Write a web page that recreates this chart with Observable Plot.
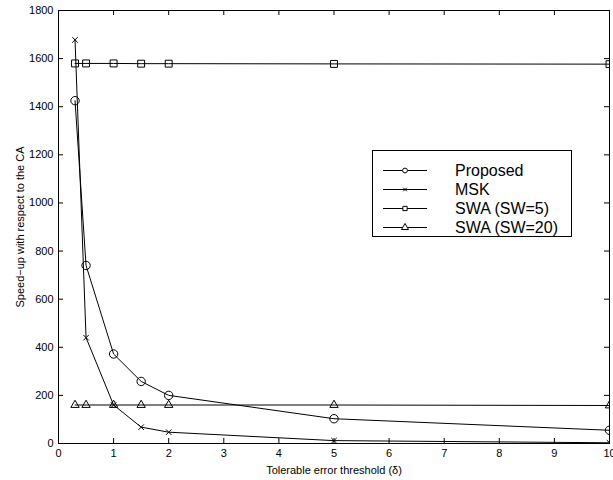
<!DOCTYPE html>
<html>
<head>
<meta charset="utf-8">
<script src="https://cdn.jsdelivr.net/npm/d3@7"></script>
<script src="https://cdn.jsdelivr.net/npm/@observablehq/plot@0.6"></script>
<style>
  html, body { margin: 0; padding: 0; background: #fff; }
  #wrap { position: relative; width: 613px; height: 480px; }
  #legend { position: absolute; left: 372px; top: 150px; width: 200px; height: 87px;
    border: 1px solid #000; background: #fff; box-sizing: border-box;
    font-family: "Liberation Sans", Arial, sans-serif; font-size: 16px; }
  .row { position: absolute; left: 0; height: 19px; display: flex; align-items: center; }
  .row svg { margin-left: 10px; }
  .row span { position: absolute; left: 82px; white-space: nowrap; line-height: 19px; }
</style>
</head>
<body>
<div id="wrap"></div>
<script>
const xs = [0.3, 0.5, 1, 1.5, 2, 5, 10];
const seriesNames = ["Proposed", "MSK", "SWA (SW=5)", "SWA (SW=20)"];
const proposed = [1425, 740, 372, 258, 200, 103, 55];
const msk = [1678, 440, 160, 68, 47, 12, 3];
const swa5 = [1580, 1580, 1580, 1579, 1579, 1578, 1577];
const swa20 = [160, 160, 160, 160, 160, 160, 158];
const xTicks = [0, 1, 2, 3, 4, 5, 6, 7, 8, 9, 10];
const yTicks = [0, 200, 400, 600, 800, 1000, 1200, 1400, 1600, 1800];

const symbols = ["circle", "times", "square", "triangle"];
const symR = [4.2, 2.6, 3.9, 3.1];
const legR = [2.4, 1.8, 2.4, 2.6];
const allSeries = [proposed, msk, swa5, swa20];
const data = [];
allSeries.forEach((vals, si) => vals.forEach((v, i) => data.push({x: xs[i], y: v, s: seriesNames[si], si})));

const W = 613, H = 480, mL = 58, mR = 4, mT = 10, mB = 37;
const fw = W - mL - mR, fh = H - mT - mB;
const tick = 5;

const marks = [
  Plot.frame({stroke: "#000", strokeWidth: 1}),
  Plot.tickX(xTicks, {x: d => d, insetTop: fh - tick, stroke: "#000"}),
  Plot.tickX(xTicks, {x: d => d, insetBottom: fh - tick, stroke: "#000"}),
  Plot.tickY(yTicks, {y: d => d, insetRight: fw - tick, stroke: "#000"}),
  Plot.tickY(yTicks, {y: d => d, insetLeft: fw - tick, stroke: "#000"}),
  Plot.axisX(xTicks, {tickSize: 0, tickPadding: 6, fontSize: 11, tickFormat: d3.format("d"), label: "Tolerable error threshold (δ)", labelAnchor: "center", labelArrow: "none", labelOffset: 30}),
  Plot.axisY(yTicks, {tickSize: 0, tickPadding: 5, fontSize: 11, tickFormat: d3.format("d"), label: "Speed\u2212up with respect to the CA", labelAnchor: "center", labelArrow: "none", labelOffset: 42})
];
seriesNames.forEach((name, si) => {
  const d = data.filter(p => p.si === si);
  marks.push(Plot.line(d, {x: "x", y: "y", stroke: "#000", strokeWidth: 1, clip: true}));
  marks.push(Plot.dot(d, {x: "x", y: "y", symbol: () => symbols[si], r: symR[si], stroke: "#000", fill: "none", strokeWidth: 1, clip: true}));
});

const chart = Plot.plot({
  width: W, height: H,
  marginLeft: mL, marginRight: mR, marginTop: mT, marginBottom: mB,
  style: {fontFamily: "'Liberation Sans', Arial, sans-serif", fontSize: "11px", color: "#000", background: "#fff"},
  x: {domain: [0, 10]},
  y: {domain: [0, 1800]},
  symbol: {type: "identity"},
  marks
});
const wrap = document.getElementById("wrap");
wrap.appendChild(chart);

// legend
const legend = document.createElement("div");
legend.id = "legend";
const symMap = {circle: d3.symbolCircle, times: d3.symbolTimes, square: d3.symbolSquare, triangle: d3.symbolTriangle};
seriesNames.forEach((name, si) => {
  const row = document.createElement("div");
  row.className = "row";
  row.style.top = (10 + si * 19) + "px";
  const svg = d3.create("svg").attr("width", 46).attr("height", 19);
  svg.append("line").attr("x1", 0).attr("x2", 44).attr("y1", 9.5).attr("y2", 9.5).attr("stroke", "#000");
  const r = legR[si];
  svg.append("path").attr("transform", "translate(22,9.5)")
    .attr("d", d3.symbol(symMap[symbols[si]], Math.PI * r * r)())
    .attr("fill", symbols[si] === "times" ? "#000" : "#fff").attr("stroke", "#000");
  row.appendChild(svg.node());
  const sp = document.createElement("span");
  sp.textContent = name;
  row.appendChild(sp);
  legend.appendChild(row);
});
wrap.appendChild(legend);
</script>
</body>
</html>
